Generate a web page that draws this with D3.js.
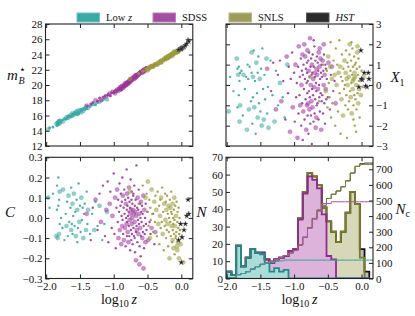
<!DOCTYPE html>
<html><head><meta charset="utf-8">
<script src="https://cdn.jsdelivr.net/npm/d3@7"></script>
<style>body{margin:0;background:#fff}svg{display:block;font-family:"Liberation Serif","DejaVu Serif",serif}</style>
</head><body><svg id="c" width="415" height="316"></svg>
<script>
// ---------- DATA ----------
const lowzLogz = [-1.97,-1.95,-1.90,-1.85,-1.84,-1.84,-1.83,-1.82,-1.82,-1.81,-1.81,-1.80,-1.80,-1.78,-1.76,-1.75,-1.73,-1.71,-1.70,-1.69,-1.68,-1.67,-1.66,-1.64,-1.63,-1.63,-1.62,-1.61,-1.61,-1.60,-1.59,-1.58,-1.57,-1.56,-1.55,-1.54,-1.54,-1.53,-1.52,-1.51,-1.50,-1.49,-1.48,-1.47,-1.46,-1.45,-1.44,-1.43,-1.41,-1.40,-1.39,-1.38,-1.35,-1.32,-1.29,-1.27,-1.24,-1.21,-1.17,-1.14,-1.10];
const lowzMb = [14.2,14.4,14.5,14.9,14.7,15.1,15.0,14.8,15.3,15.2,14.9,15.4,15.0,15.1,15.4,15.2,15.6,15.5,15.8,15.6,15.9,15.7,16.0,15.8,16.1,15.9,16.0,16.3,15.9,16.2,16.1,16.4,16.2,16.5,16.3,16.1,16.6,16.4,16.2,16.7,16.5,16.8,16.4,16.7,16.9,16.6,17.0,16.8,17.1,16.9,17.2,17.0,17.2,17.4,17.5,17.4,17.7,17.8,18.0,18.2,18.1];
const lowzX1 = [-1.3,0.4,-0.3,1.3,0.8,-1.1,0.5,-0.5,0.9,-1.8,0.2,0.6,-1.0,0.7,-1.5,0.5,-0.2,0.4,-2.2,1.0,0.3,-1.2,0.9,-0.8,1.6,0.6,-1.9,0.4,-0.6,1.7,-1.1,0.2,-2.4,1.1,-0.4,0.6,-1.6,1.4,-0.9,0.3,-1.3,0.8,-2.0,1.8,-0.2,-1.7,0.5,-0.7,1.3,-1.4,-0.1,-2.1,1.2,-0.5,-1.8,0.7,-1.0,0.1,-0.6,-1.6,1.0];
const lowzC = [0.10,0.05,0.12,-0.09,0.16,0.04,-0.10,0.20,0.06,-0.08,0.09,-0.03,0.13,0.00,-0.05,0.14,-0.11,0.02,-0.04,0.08,-0.09,0.11,-0.02,0.05,-0.06,0.15,-0.03,0.07,-0.08,0.01,0.12,-0.04,0.03,-0.09,0.09,-0.12,0.04,-0.05,0.17,-0.02,0.06,-0.07,0.10,-0.01,0.05,-0.10,0.02,0.07,-0.06,0.13,-0.03,0.04,-0.08,0.02,-0.06,0.08,-0.04,0.06,-0.11,-0.03,0.03];

const sdssLogz = [-1.40,-1.34,-1.31,-1.27,-1.24,-1.21,-1.19,-1.16,-1.13,-1.11,-1.09,-1.08,-1.06,-1.05,-1.03,-1.02,-1.00,-0.99,-0.98,-0.97,-0.96,-0.95,
-0.94,-0.935,-0.93,-0.92,-0.915,-0.91,-0.90,-0.895,-0.89,-0.885,-0.88,-0.875,-0.873,
-0.87,-0.865,-0.86,-0.855,-0.85,-0.845,-0.84,-0.835,-0.83,-0.825,-0.82,-0.815,-0.81,-0.81,-0.807,-0.805,-0.803,-0.80,
-0.797,-0.793,-0.79,-0.787,-0.783,-0.78,-0.777,-0.773,-0.77,-0.767,-0.763,-0.76,-0.757,-0.753,-0.75,-0.747,-0.743,-0.74,-0.737,-0.735,-0.733,-0.731,
-0.728,-0.724,-0.72,-0.716,-0.712,-0.708,-0.704,-0.70,-0.696,-0.692,-0.688,-0.684,-0.68,-0.676,-0.672,-0.668,-0.664,-0.662,-0.67,-0.69,-0.71,
-0.658,-0.654,-0.65,-0.646,-0.642,-0.638,-0.634,-0.63,-0.626,-0.622,-0.618,-0.614,-0.61,-0.606,-0.602,-0.598,-0.594,-0.592,-0.62,
-0.588,-0.582,-0.577,-0.572,-0.567,-0.562,-0.557,-0.552,-0.547,-0.542,-0.537,-0.532,-0.527,-0.523,-0.56,
-0.515,-0.50,-0.49,-0.47,-0.455,-0.44,-0.42,-0.40,-0.385];
const sdssMb = [17.3,17.5,17.7,18.0,17.9,18.3,18.0,18.4,18.6,18.5,18.7,18.8,18.9,18.6,19.0,19.1,19.0,19.2,18.9,19.3,19.1,19.4,
19.3,19.5,19.2,19.6,19.4,19.7,19.5,19.3,19.8,19.6,19.4,19.9,19.7,
19.8,19.6,20.0,19.8,19.7,20.1,19.9,20.2,19.8,20.0,20.3,19.9,20.1,20.2,20.0,20.4,20.1,20.2,
20.3,20.1,20.5,20.2,20.4,20.6,20.3,20.5,20.2,20.7,20.4,20.6,20.5,20.8,20.4,20.7,20.6,20.9,20.5,20.8,20.6,20.9,
20.7,20.9,20.8,21.0,20.7,21.1,20.9,21.0,21.2,20.8,21.1,21.0,21.3,20.9,21.2,21.1,21.4,21.0,21.2,21.1,20.9,
21.2,21.4,21.1,21.3,21.5,21.2,21.4,21.6,21.3,21.5,21.7,21.4,21.6,21.8,21.5,21.7,21.6,21.8,21.5,
21.7,21.9,21.6,21.8,22.0,21.7,21.9,22.1,21.8,22.0,22.2,21.9,22.1,22.3,22.0,
22.2,22.3,22.1,22.4,22.3,22.5,22.4,22.6,22.7];
const sdssX1 = [0.8,-0.3,1.1,-1.2,0.5,1.2,-0.8,0.2,-1.7,1.4,-0.4,0.9,-2.3,0.3,1.6,-1.1,0.6,-1.8,1.0,-0.6,0.1,-2.6,
0.9,-1.4,1.9,-0.5,0.4,-1.0,1.3,-2.0,0.0,0.7,-0.9,1.5,-2.7,
0.5,-1.3,1.0,-0.2,2.0,-1.7,0.3,1.4,-0.7,0.8,-2.2,0.1,1.1,-1.0,0.6,-0.4,1.7,-1.5,
0.2,-0.9,1.2,-2.4,0.7,-0.3,1.6,-1.2,0.4,-0.6,2.3,-1.9,0.9,0.0,-1.5,1.3,-0.8,0.5,-2.9,1.0,-0.2,0.6,
-1.1,1.5,-0.5,0.3,-1.8,0.9,-0.1,1.9,-1.4,0.6,-0.7,1.2,-2.1,0.1,-0.3,0.8,-1.0,1.4,-1.6,0.4,2.2,
0.5,-0.9,1.1,-0.2,0.7,-1.7,1.6,0.0,-0.6,0.9,-1.3,0.3,1.3,-0.4,0.6,-2.2,1.0,-0.8,1.8,
0.4,-0.5,1.2,-1.4,0.7,0.0,1.5,-0.9,0.5,-1.9,1.0,-0.2,0.8,-0.7,2.0,
0.3,-0.6,1.1,-1.2,0.5,0.9,-0.3,0.2,-0.9];
const sdssC = [0.02,-0.11,0.05,0.09,-0.06,0.12,-0.02,0.16,-0.09,0.04,0.18,-0.12,0.07,0.13,-0.05,0.01,0.22,-0.08,0.10,-0.15,0.05,0.14,
-0.02,0.09,-0.10,0.03,0.17,-0.06,0.06,0.12,-0.13,0.01,0.08,-0.04,0.20,
-0.01,0.11,-0.08,0.05,-0.11,0.14,0.02,-0.05,0.09,-0.14,0.07,0.00,0.24,-0.03,0.04,-0.09,0.12,-0.02,
0.06,-0.07,0.01,0.10,-0.12,0.03,-0.04,0.15,-0.09,0.08,-0.01,0.05,-0.16,0.02,0.19,-0.06,0.04,-0.11,0.09,-0.03,0.13,-0.08,
0.00,0.07,-0.13,0.04,0.11,-0.05,0.02,-0.09,0.16,-0.02,0.06,-0.17,0.03,0.09,-0.07,0.01,0.26,-0.04,-0.21,-0.10,0.12,
-0.06,0.05,-0.12,0.10,-0.01,0.04,-0.08,0.14,-0.03,0.02,-0.14,0.07,-0.05,0.00,-0.19,0.08,-0.09,0.03,-0.23,
-0.02,0.06,-0.10,0.02,-0.07,0.11,-0.04,-0.15,0.04,-0.08,0.00,-0.12,0.07,-0.03,-0.25,
-0.06,0.03,-0.11,-0.02,-0.08,-0.05,0.02,-0.13,-0.07];

const snlsLogz = [-0.76,-0.63,-0.57,-0.53,-0.515,-0.505,-0.495,-0.485,-0.475,-0.465,-0.458,-0.452,-0.44,-0.43,-0.415,-0.40,-0.39,-0.382,
-0.37,-0.36,-0.35,-0.34,-0.33,-0.325,-0.315,-0.31,-0.305,-0.298,-0.29,-0.283,-0.275,-0.268,-0.26,-0.253,-0.247,-0.24,
-0.235,-0.23,-0.225,-0.22,-0.215,-0.21,-0.205,-0.20,-0.195,-0.19,-0.185,-0.18,-0.175,-0.17,
-0.165,-0.16,-0.155,-0.15,-0.145,-0.14,-0.135,-0.13,-0.125,-0.12,-0.115,-0.11,-0.107,-0.104,-0.101,-0.099,-0.13,-0.15,-0.12,
-0.095,-0.09,-0.085,-0.08,-0.075,-0.07,-0.065,-0.06,-0.055,-0.05,-0.045,-0.04,-0.035,-0.03,-0.028,-0.06,-0.08,
-0.02,-0.01,0.00,0.015,0.03];
const snlsMb = [20.8,21.5,21.8,22.0,22.0,22.2,21.9,22.3,22.1,22.4,22.2,22.5,22.4,22.6,22.3,22.7,22.5,22.8,
22.7,22.9,22.6,23.0,22.8,23.1,22.9,23.2,23.0,23.2,22.9,23.3,23.1,23.4,23.2,23.5,23.3,23.6,
23.4,23.6,23.3,23.7,23.5,23.8,23.6,23.4,23.9,23.7,23.5,23.9,23.7,24.0,
23.8,24.0,23.7,24.1,23.9,24.2,24.0,23.8,24.2,24.1,24.3,24.0,24.2,24.4,24.1,24.3,24.0,23.9,24.2,
24.3,24.1,24.4,24.2,24.5,24.3,24.5,24.2,24.6,24.4,24.6,24.3,24.7,24.5,24.7,24.4,24.3,
24.7,24.8,24.6,24.9,24.8];
const snlsX1 = [0.4,-0.8,1.0,-0.3,0.7,-1.1,1.4,0.1,-0.6,0.9,2.1,-1.6,0.3,-0.9,1.2,0.5,-2.0,1.8,
0.0,1.0,-1.3,0.6,2.2,-0.4,0.9,-2.4,0.4,-0.7,1.5,0.2,-1.5,0.8,-0.2,1.2,0.0,-1.0,
0.6,1.7,-0.5,0.3,-2.6,1.1,0.0,-1.2,0.9,0.4,-0.8,1.5,2.0,-0.3,
0.7,-0.6,1.2,0.1,-1.4,0.5,1.8,-0.2,0.9,-1.0,0.3,1.4,-0.5,0.6,-2.0,1.0,0.2,2.1,-1.7,
0.4,-0.7,1.1,0.0,-1.2,0.8,1.6,-0.4,0.5,-0.9,1.3,0.2,-0.2,0.9,-1.6,1.9,-2.3,
0.3,-0.5,0.7,-0.1,0.4];
const snlsC = [0.13,0.07,0.16,0.10,0.12,0.03,0.18,-0.04,0.09,-0.10,0.05,-0.01,0.14,0.02,-0.07,0.08,-0.02,0.11,
0.04,-0.09,0.13,-0.03,0.06,-0.13,0.01,0.09,-0.05,0.10,-0.02,0.15,-0.08,0.03,-0.16,0.07,-0.04,0.12,
-0.01,0.08,-0.10,0.04,-0.06,0.11,-0.03,0.02,-0.14,0.06,-0.07,0.00,-0.20,0.09,
-0.02,0.05,-0.09,0.13,-0.04,0.02,-0.12,0.07,-0.06,0.00,-0.15,0.04,-0.08,0.10,-0.01,-0.18,-0.11,0.03,-0.03,
-0.04,0.06,-0.10,0.01,-0.07,0.08,-0.14,-0.02,0.03,-0.12,-0.05,0.05,-0.20,-0.08,0.00,-0.16,-0.09,
-0.06,-0.13,-0.03,-0.10,-0.22];

const hstLogz = [-0.01,0.10,0.11,0.04,0.01,-0.04,0.08,0.00,0.06];
const hstMb = [24.8,25.9,25.7,25.0,24.9,24.6,25.4,24.7,25.2];
const hstX1 = [1.7,0.6,0.3,0.6,0.25,-0.1,-0.1,0.3,-0.05];
const hstC = [-0.03,0.09,0.02,-0.06,-0.095,-0.11,0.01,-0.22,-0.03];

// histogram (counts per log10 z bin; 30 bins from -2.0, width 0.0705)
const binStart = -2.0, binWidth = 0.0705;
const lowzCounts = [4,2,19,7,12,17,15,14,9,4,6,4,5,0,0,0,0,0,0,0,0,0,0,0,0,0,0,0,0,0];
const sdssCounts = [0,0,0,0,0,0,0,1,2,5,5,8,8,16,17,34,49,59,57,52,37,13,11,0,0,0,0,0,0,0];
const snlsCounts = [0,0,0,0,0,0,0,0,0,0,0,0,0,0,0,1,1,2,2,2,4,20,16,21,27,38,50,43,12,0];
const hstCounts  = [0,0,0,0,0,0,0,0,0,0,0,0,0,0,0,0,0,0,0,0,0,0,0,0,0,0,0,0,5,4];

const legendLabels = ["Low z","SDSS","SNLS","HST"];
const xTicks = [-2.0,-1.5,-1.0,-0.5,0.0];
const mbTicks = [12,14,16,18,20,22,24,26,28];
const x1Ticks = [-3,-2,-1,0,1,2,3];
const cTicks = [-0.3,-0.2,-0.1,0.0,0.1,0.2,0.3];
const nTicks = [0,10,20,30,40,50,60,70];
const ncTicks = [0,100,200,300,400,500,600,700];

// ---------- DRAW ----------
const svg = d3.select('#c');
const col = {lowz:'#3aa9a5', sdss:'#9e379e', snls:'#9b9b3b'};
const PX = {L:[45.5,192.8], R:[226,373]};
const PY = {T:[146,24], B:[278.5,157.3]};
const xDom = [-2.01, 0.17];
const FONT = '"Liberation Serif","DejaVu Serif",serif';

function mkX(p){ return d3.scaleLinear().domain(xDom).range(PX[p]); }

function axes(x, opts){
  const [x0,x1] = x.range(), [y0,y1] = opts.yl.range();
  const g = svg.append('g');
  const style = sel => { sel.select('.domain').remove(); sel.attr('font-family',FONT).attr('font-size',11);
    sel.selectAll('line').attr('stroke','#222'); sel.selectAll('text').attr('fill','#111'); };
  g.append('g').attr('transform',`translate(0,${y0})`)
    .call(d3.axisBottom(x).tickValues(xTicks).tickSize(-4).tickPadding(3.5)
      .tickFormat(opts.xLabels ? d3.format('.1f') : ''))
    .call(style);
  g.append('g').attr('transform',`translate(0,${y1})`)
    .call(d3.axisTop(x).tickValues(xTicks).tickSize(-4).tickFormat('')).call(style);
  g.append('g').attr('transform',`translate(${x0},0)`)
    .call(d3.axisLeft(opts.yl).tickValues(opts.ylTicks).tickSize(-4).tickPadding(3)
      .tickFormat(opts.ylFmt || ''))
    .call(style);
  g.append('g').attr('transform',`translate(${x1},0)`)
    .call(d3.axisRight(opts.yr).tickValues(opts.yrTicks).tickSize(-4).tickPadding(3)
      .tickFormat(opts.yrFmt || ''))
    .call(style);
  g.append('rect').attr('x',x0).attr('y',y1).attr('width',x1-x0).attr('height',y0-y1)
    .attr('fill','none').attr('stroke','#222').attr('stroke-width',1.1);
}

const S = [
  {lz:lowzLogz, v:{mb:lowzMb, x1:lowzX1, c:lowzC}, col:col.lowz},
  {lz:sdssLogz, v:{mb:sdssMb, x1:sdssX1, c:sdssC}, col:col.sdss},
  {lz:snlsLogz, v:{mb:snlsMb, x1:snlsX1, c:snlsC}, col:col.snls}
];
const hstV = {mb:hstMb, x1:hstX1, c:hstC};

function scatter(x, y, key, bigR, smallR){
  const g = svg.append('g');
  S.forEach(s => {
    const vals = s.v[key];
    const n = Math.min(s.lz.length, vals.length);
    const pts = d3.range(n).map(i => ({x:s.lz[i], y:vals[i], i}));
    g.selectAll(null).data(pts).join('circle')
      .attr('cx', d=>x(d.x)).attr('cy', d=>y(d.y))
      .attr('r', d => d.i%3===0 ? bigR : smallR)
      .attr('fill', s.col)
      .attr('fill-opacity', d => d.i%3===0 ? 0.55 : 0.9)
      .attr('stroke', s.col).attr('stroke-opacity', d=> d.i%3===0 ? 0.35 : 0).attr('stroke-width',0.8);
  });
  const star = d3.symbol(d3.symbolStar, 9);
  g.selectAll(null).data(d3.range(hstLogz.length)).join('path')
    .attr('d', star).attr('transform', i=>`translate(${x(hstLogz[i])},${y(hstV[key][i])})`)
    .attr('fill','#1a1a1a').attr('stroke','#777').attr('stroke-width',0.4);
}

// Panel 1: mB
{
  const x = mkX('L'), y = d3.scaleLinear().domain([12,28]).range(PY.T);
  scatter(x,y,'mb',2.0,1.5);
  axes(x,{xLabels:false, yl:y, ylTicks:mbTicks, ylFmt:d3.format('d'), yr:y, yrTicks:mbTicks});
}
// Panel 2: X1
{
  const x = mkX('R'), y = d3.scaleLinear().domain([-3,3]).range(PY.T);
  scatter(x,y,'x1',2.1,1.2);
  axes(x,{xLabels:false, yl:y, ylTicks:x1Ticks, yr:y, yrTicks:x1Ticks, yrFmt:d3.format('d')});
}
// Panel 3: C
{
  const x = mkX('L'), y = d3.scaleLinear().domain([-0.3,0.3]).range(PY.B);
  scatter(x,y,'c',2.1,1.2);
  axes(x,{xLabels:true, yl:y, ylTicks:cTicks, ylFmt:d3.format('.1f'), yr:y, yrTicks:cTicks});
}
// Panel 4: histogram
{
  const x = mkX('R');
  const yN = d3.scaleLinear().domain([0,70]).range(PY.B);
  const yC = d3.scaleLinear().domain([0,777]).range(PY.B);
  const nb = lowzCounts.length;
  const edges = d3.range(nb+1).map(k => binStart + k*binWidth);
  const layers = [
    {c:lowzCounts, fill:'#aadcd8', stroke:'#1d8e8b', line:'#34a3a0'},
    {c:sdssCounts, fill:'#ddb3dc', stroke:'#8e2b8e', line:'#b250b2'},
    {c:snlsCounts, fill:'#d7d7b9', stroke:'#7c7c26', line:'#85852e'},
    {c:hstCounts,  fill:'#bdbdbd', stroke:'#111111', line:'#333333'}
  ];
  let base = new Array(nb).fill(0);
  layers.forEach(L => { L.b = base.slice(); L.t = base.map((v,k)=>v+L.c[k]); base = L.t; });
  svg.append('clipPath').attr('id','hclip').append('rect')
    .attr('x',PX.R[0]).attr('y',PY.B[1]).attr('width',PX.R[1]-PX.R[0]).attr('height',PY.B[0]-PY.B[1]);
  const g = svg.append('g').attr('clip-path','url(#hclip)');
  const line = d3.line().x(d=>x(d[0])).y(d=>yN(d[1]));
  const lineC = d3.line().x(d=>x(d[0])).y(d=>yC(d[1]));
  layers.forEach(L => {
    const pts = [];
    for (let k=0;k<nb;k++){ pts.push([edges[k],L.t[k]],[edges[k+1],L.t[k]]); }
    for (let k=nb-1;k>=0;k--){ pts.push([edges[k+1],L.b[k]],[edges[k],L.b[k]]); }
    g.append('path').attr('d', line(pts)+'Z').attr('fill',L.fill).attr('stroke','none');
  });
  layers.slice().reverse().forEach(L => {
    const pts = [[edges[0],L.b[0]]];
    for (let k=0;k<nb;k++){ pts.push([edges[k],L.t[k]],[edges[k+1],L.t[k]]); }
    pts.push([edges[nb],L.b[nb-1]]);
    g.append('path').attr('d', line(pts)).attr('fill','none').attr('stroke',L.stroke)
      .attr('stroke-width',1.8).attr('stroke-linejoin','miter');
  });
  layers.slice().reverse().forEach(L => {
    const cum = d3.cumsum(L.t);
    const pts = [[edges[0],0]];
    for (let k=0;k<nb;k++){ pts.push([edges[k],cum[k]],[edges[k+1],cum[k]]); }
    pts.push([xDom[1],cum[nb-1]]);
    g.append('path').attr('d', lineC(pts)).attr('fill','none').attr('stroke',L.line).attr('stroke-width',1);
  });
  axes(x,{xLabels:true, yl:yN, ylTicks:nTicks, ylFmt:d3.format('d'), yr:yC, yrTicks:ncTicks, yrFmt:d3.format('d')});
}

// ---------- LABELS ----------
function txt(x,y,s,size,italic,anchor){
  return svg.append('text').attr('x',x).attr('y',y).attr('font-family',FONT).attr('font-size',size)
    .attr('font-style',italic?'italic':'normal').attr('text-anchor',anchor||'start').attr('fill','#111').text(s);
}
txt(7,80,'m',15,true);
txt(18.5,84,'B',10,true);
txt(18.5,72.5,'\u22C6',11,false);
txt(390.5,82,'X',15,true);
txt(399.5,86,'1',10,false);
txt(5,217,'C',15,true);
txt(196.5,217,'N',15,true);
txt(395.5,213.5,'N',15,true);
txt(405.5,216.5,'c',10,false);
function logz(cx){
  const t = svg.append('text').attr('x',cx).attr('y',304).attr('font-family',FONT).attr('font-size',14)
    .attr('text-anchor','middle').attr('fill','#111');
  t.append('tspan').text('log');
  t.append('tspan').attr('font-size',10).attr('dy',3).text('10');
  t.append('tspan').attr('dy',-3).attr('font-style','italic').text('\u2009z');
}
logz(119); logz(299.5);

// legend
const legX = [77,153,229,306.5];
const legFill = [col.lowz, '#a24ea2', '#9d9d5b', '#2b2b2b'];
const legEdge = ['#6cc3bf', '#bb7dbb', '#b8b88a', '#555'];
legendLabels.forEach((lab,i)=>{
  svg.append('rect').attr('x',legX[i]).attr('y',13).attr('width',22.5).attr('height',9)
    .attr('fill',legFill[i]).attr('stroke',legEdge[i]).attr('stroke-width',1);
  const t = svg.append('text').attr('x',legX[i]+29).attr('y',21.3).attr('font-family',FONT)
    .attr('font-size',10.5).attr('fill','#111');
  if (i===0){ t.append('tspan').text('Low '); t.append('tspan').attr('font-style','italic').text('z'); }
  else if (i===3){ t.attr('font-style','italic').text(lab); }
  else t.text(lab);
});
</script></body></html>
